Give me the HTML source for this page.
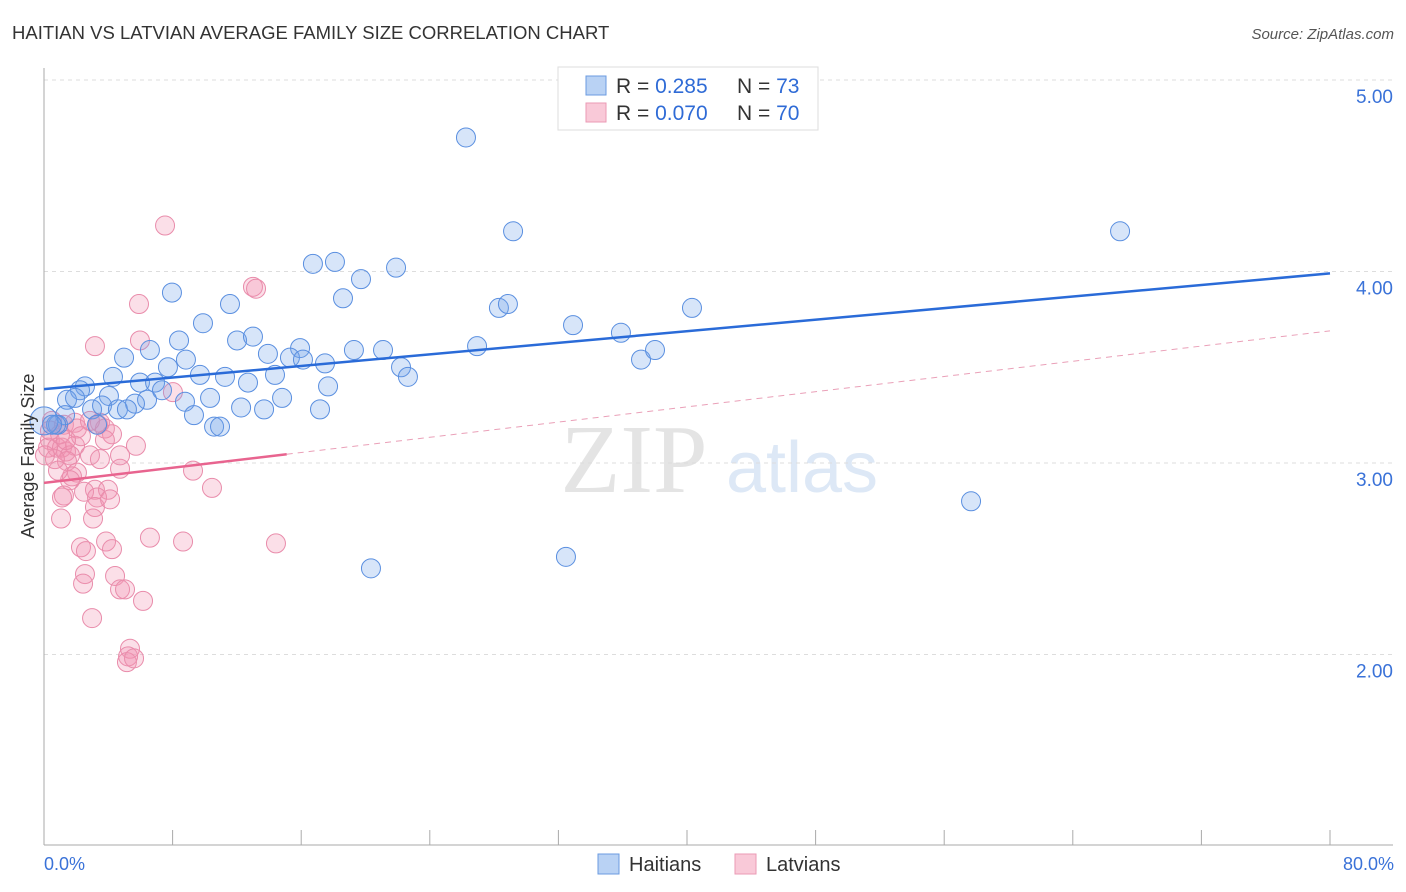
<!DOCTYPE html>
<html><head><meta charset="utf-8"><style>
body{margin:0;background:#fff;font-family:"Liberation Sans",sans-serif}
svg{display:block}
</style></head><body>
<svg id="chart" width="1406" height="892">
<text x="12" y="39" font-size="18.5" fill="#333">HAITIAN VS LATVIAN AVERAGE FAMILY SIZE CORRELATION CHART</text>
<text x="1394" y="39" font-size="15" fill="#555" font-style="italic" text-anchor="end">Source: ZipAtlas.com</text>
<text x="634" y="492" font-size="98" fill="#e4e4e4" font-family="Liberation Serif,serif" text-anchor="middle">ZIP</text>
<text x="802" y="492" font-size="72" fill="#dde8f6" text-anchor="middle">atlas</text>
<g id="grid"></g><g id="axes"></g><g id="pts"></g><g id="lines"></g>
<text x="34" y="456" font-size="18" fill="#333" text-anchor="middle" transform="rotate(-90 34 456)">Average Family Size</text>
<text x="44" y="870" font-size="18" fill="#3a72d8">0.0%</text>
<text x="1394" y="870" font-size="18" fill="#3a72d8" text-anchor="end">80.0%</text>
<g>
<rect x="558" y="67" width="260" height="63" fill="#fff" stroke="#ddd"/>
<rect x="586" y="76" width="20" height="19" fill="#b9d2f4" stroke="#6b9be0"/>
<rect x="586" y="103" width="20" height="19" fill="#f9c9d8" stroke="#eb9ab5"/>
<text x="616" y="93" font-size="21" fill="#333">R = <tspan fill="#2f6bd6">0.285</tspan><tspan x="737">N = </tspan><tspan fill="#2f6bd6">73</tspan></text>
<text x="616" y="120" font-size="21" fill="#333">R = <tspan fill="#2f6bd6">0.070</tspan><tspan x="737">N = </tspan><tspan fill="#2f6bd6">70</tspan></text>
</g>
<g>
<rect x="598" y="854" width="21" height="20" fill="#b9d2f4" stroke="#6b9be0"/>
<text x="629" y="871" font-size="20" fill="#333">Haitians</text>
<rect x="735" y="854" width="21" height="20" fill="#f9c9d8" stroke="#eb9ab5"/>
<text x="766" y="871" font-size="20" fill="#333">Latvians</text>
</g>
</svg>
<script>
const yTicks=[2,3,4,5];
const yTickLabels=["2.00","3.00","4.00","5.00"];
const blueX=[26.25,29.18,66.94,16.73,18.10,21.90,19.72,7.96,18.60,11.57,28.30,28.86,40.31,9.89,32.91,35.89,8.40,12.01,13.00,4.98,6.59,8.83,13.93,15.93,15.30,16.11,17.48,19.28,21.09,26.94,37.14,38.01,22.21,22.64,7.71,4.29,9.70,11.26,14.37,2.55,2.24,4.04,5.97,6.91,7.34,12.69,17.67,1.43,1.93,6.41,5.66,8.77,10.33,14.81,2.99,3.61,4.60,5.16,9.33,12.26,13.69,17.17,1.31,0.87,0.75,3.30,10.58,10.95,57.67,32.47,20.34,0.0,0.50];
const blueY=[4.70,4.21,4.21,4.04,4.05,4.02,3.96,3.89,3.86,3.83,3.81,3.83,3.81,3.73,3.72,3.68,3.64,3.64,3.66,3.55,3.59,3.54,3.57,3.60,3.55,3.54,3.52,3.59,3.59,3.61,3.54,3.59,3.50,3.45,3.50,3.45,3.46,3.45,3.46,3.40,3.38,3.35,3.42,3.42,3.38,3.42,3.40,3.33,3.34,3.33,3.31,3.32,3.34,3.34,3.28,3.30,3.28,3.28,3.25,3.29,3.28,3.28,3.25,3.20,3.20,3.20,3.19,3.19,2.80,2.51,2.45,3.22,3.20];
const pinkX=[7.53,13.00,13.19,5.91,5.97,3.17,8.02,0.50,1.24,1.93,2.05,3.48,3.36,3.79,4.23,0.37,0.25,0.81,1.12,1.37,1.93,1.62,1.43,0.68,5.72,4.73,9.27,2.05,1.74,1.62,3.17,3.98,2.49,1.24,1.12,3.30,10.45,3.17,1.06,3.05,6.59,8.65,14.43,3.86,2.30,2.61,4.23,2.55,4.42,2.43,4.73,5.04,6.16,2.99,5.35,5.23,5.16,5.60,2.30,2.86,1.00,0.37,4.73,2.86,3.79,0.87,0.06,4.11,1.37,3.48];
const pinkY=[4.24,3.92,3.91,3.83,3.64,3.61,3.37,3.22,3.20,3.21,3.18,3.21,3.20,3.18,3.15,3.12,3.08,3.08,3.08,3.06,3.09,3.04,3.01,3.02,3.09,2.97,2.96,2.95,2.93,2.91,2.86,2.86,2.85,2.83,2.82,2.82,2.87,2.77,2.71,2.71,2.61,2.59,2.58,2.59,2.56,2.54,2.55,2.42,2.41,2.37,2.34,2.34,2.28,2.19,2.03,1.99,1.96,1.98,3.14,3.22,3.15,3.17,3.04,3.04,3.12,2.96,3.04,2.81,3.12,3.02];
const blueTrend=[3.386,3.99];
const pinkTrend=[2.896,3.69];
const pinkSolidEnd=15.1;

const NS="http://www.w3.org/2000/svg";
const sx=v=>44+v*16.075;
const sy=v=>463-(v-3)*191.5;
function mk(tag,attrs,parent){const e=document.createElementNS(NS,tag);for(const k in attrs)e.setAttribute(k,attrs[k]);document.getElementById(parent).appendChild(e);return e;}
yTicks.forEach((t,i)=>{
  const g=mk('line',{x1:44,x2:1393,y1:sy(t),y2:sy(t),stroke:'#ddd','stroke-dasharray':'4 4'},'grid');
  
  
  const tx=mk('text',{x:1393,y:sy(t)+23,'font-size':19,fill:'#3a72d8','text-anchor':'end'},'grid');
  tx.textContent=yTickLabels[i];
  
  
});
const a1=mk('line',{x1:44,x2:44,y1:68,y2:845,stroke:'#aaa'},'axes');


const a2=mk('line',{x1:44,x2:1393,y1:845,y2:845,stroke:'#aaa'},'axes');


for(let i=0;i<=10;i++){
  const t=mk('line',{x1:sx(i*8),x2:sx(i*8),y1:830,y2:845,stroke:'#aaa'},'axes');
  
  
}
pinkX.forEach((x,i)=>{
  const c=mk('circle',{cx:sx(x),cy:sy(pinkY[i]),r:9.5,fill:'rgba(242,150,180,0.3)',stroke:'#e98cab','stroke-width':1},'pts');
  
  
});
blueX.forEach((x,i)=>{
  const c=mk('circle',{cx:sx(x),cy:sy(blueY[i]),r:(x===0?14:9.5),fill:'rgba(110,160,235,0.28)',stroke:'#5a8fe0','stroke-width':1},'pts');
  
  
});
const bl=mk('line',{x1:sx(0),y1:sy(blueTrend[0]),x2:sx(80),y2:sy(blueTrend[1]),stroke:'#2a6bd8','stroke-width':2.5},'lines');


const pe=pinkTrend[0]+(pinkTrend[1]-pinkTrend[0])*pinkSolidEnd/80;
const pl=mk('line',{x1:sx(0),y1:sy(pinkTrend[0]),x2:sx(pinkSolidEnd),y2:sy(pe),stroke:'#e8648f','stroke-width':2.5},'lines');


const pd=mk('line',{x1:sx(pinkSolidEnd),y1:sy(pe),x2:sx(80),y2:sy(pinkTrend[1]),stroke:'#eaa0b8','stroke-width':1,'stroke-dasharray':'6 5'},'lines');


</script>
</body></html>
